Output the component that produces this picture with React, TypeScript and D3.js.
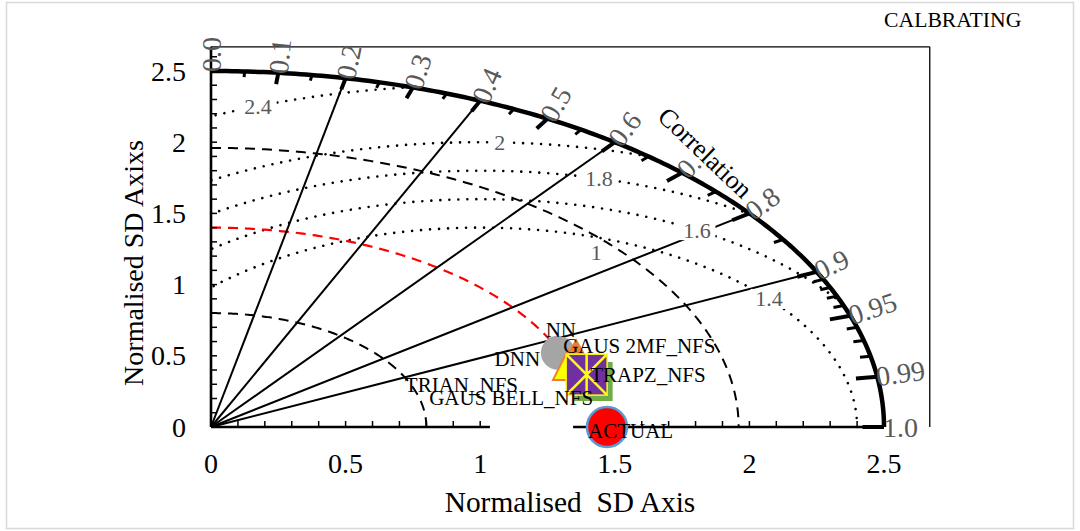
import React from 'react';
import * as d3 from 'd3';

const W = 1080;
const H = 531;

// Standard deviation axis
const sdTickValues = [0, 0.5, 1, 1.5, 2, 2.5];
const sdMax = 2.5;
const plotMax = 2.67;

// Correlation scale along the outer arc
const corrLabelValues = [0, 0.1, 0.2, 0.3, 0.4, 0.5, 0.6, 0.7, 0.8, 0.9, 0.95, 0.99, 1.0];
const corrLabelText = ['0.0', '0.1', '0.2', '0.3', '0.4', '0.5', '0.6', '0.7', '0.8', '0.9', '0.95', '0.99', '1.0'];
const corrLines = [0.2, 0.4, 0.6, 0.8, 0.9];
const corrMajorTicks = [0.1, 0.2, 0.3, 0.4, 0.5, 0.6, 0.7, 0.8, 0.9, 0.95, 0.99, 1.0];
const corrMinorTicks = [0.05, 0.15, 0.25, 0.35, 0.45, 0.55, 0.65, 0.75, 0.85, 0.91, 0.92, 0.93, 0.94, 0.96, 0.97, 0.98];
const corrCaptionAt = 0.69;

// Standard deviation arcs
const sdArcRadii = [0.8, 1.96];
const refSD = 1.4;
const refArcEndCorr = 0.98;

// Centred RMS difference contours
const rmsCentre = 1.0;
const rmsRadii = [1.4, 1.6, 1.8, 2.0, 2.4];
const rmsLabels = ['1.4', '1.6', '1.8', '2', '2.4'];
const rmsLabelX = [2.073, 1.805, 1.441, 1.073, 0.175];
const looseLabel = { text: '1', sd: 1.883, corr: 0.76 };

// Model skill
const models = ['NN', 'DNN', 'TRIAN_NFS', 'TRAPZ_NFS', 'GAUS BELL_NFS', 'GAUS 2MF_NFS', 'ACTUAL'];
const modelSD = [1.39, 1.452, 1.396, 1.455, 1.443, 1.443, 1.471];
const modelCorr = [0.927, 0.934, 0.95, 0.9756, 0.967, 0.967, 1.0];

type MarkerStyle = {
  shape: 'circle' | 'triangle' | 'square' | 'star';
  w: number;
  h?: number;
  fill?: string;
  stroke?: string;
  sw?: number;
  anchor: 'start' | 'middle' | 'end';
  dx: number;
  dy: number;
};

const markerStyles: Record<string, MarkerStyle> = {
  NN: { shape: 'circle', w: 34, fill: '#A5A5A5', anchor: 'middle', dx: 3, dy: -16 },
  DNN: { shape: 'triangle', w: 34, h: 30, fill: '#ED7D31', anchor: 'end', dx: -36, dy: 13 },
  TRIAN_NFS: { shape: 'triangle', w: 30, h: 30, fill: '#FFFF00', stroke: '#ED7D31', sw: 2, anchor: 'end', dx: -50, dy: 27 },
  TRAPZ_NFS: { shape: 'square', w: 39, fill: '#70AD47', anchor: 'start', dx: -3, dy: 0.5 },
  'GAUS BELL_NFS': { shape: 'square', w: 41, fill: '#7030A0', stroke: '#FFFF00', sw: 1.5, anchor: 'end', dx: 6.5, dy: 30.5 },
  'GAUS 2MF_NFS': { shape: 'star', w: 40, stroke: '#FFFF00', sw: 2.5, anchor: 'start', dx: -23.5, dy: -21.5 },
  ACTUAL: { shape: 'circle', w: 40, fill: '#FF0000', stroke: '#5B9BD5', sw: 2.5, anchor: 'start', dx: -19, dy: 11 },
};

const FONT = "'Liberation Serif', 'Times New Roman', serif";
const GREY_TEXT = '#595959';

const x = d3.scaleLinear().domain([0, sdMax]).range([211, 884]);
const y = d3.scaleLinear().domain([0, sdMax]).range([427, 71]);

const polar = (r: number, c: number): [number, number] => {
  const s = Math.sqrt(Math.max(0, 1 - c * c));
  return [x(r * c), y(r * s)];
};

const line = d3.line<[number, number]>().x((d) => d[0]).y((d) => d[1]);

const sdArcPath = (r: number, corrEnd = 1) => {
  const t0 = Math.acos(corrEnd);
  const pts: [number, number][] = d3.range(0, 201).map((i) => {
    const t = Math.PI / 2 - (i / 200) * (Math.PI / 2 - t0);
    return [x(r * Math.cos(t)), y(r * Math.sin(t))];
  });
  return line(pts) as string;
};

const rmsArcPath = (R: number) => {
  const cMin = Math.min(1, (sdMax * sdMax - rmsCentre * rmsCentre - R * R) / (2 * R * rmsCentre));
  const pMin = Math.acos(Math.max(-1, cMin));
  const pMax = Math.acos(Math.max(-1, -rmsCentre / R));
  const pts: [number, number][] = d3.range(0, 301).map((i) => {
    const p = pMin + (i / 300) * (pMax - pMin);
    return [x(rmsCentre + R * Math.cos(p)), y(R * Math.sin(p))];
  });
  return line(pts) as string;
};

function Marker({ cx, cy, st }: { cx: number; cy: number; st: MarkerStyle }) {
  const w = st.w;
  if (st.shape === 'circle') {
    return <circle cx={cx} cy={cy} r={w / 2} fill={st.fill} stroke={st.stroke || 'none'} strokeWidth={st.sw || 0} />;
  }
  if (st.shape === 'square') {
    return (
      <rect x={cx - w / 2} y={cy - w / 2} width={w} height={w} fill={st.fill} stroke={st.stroke || 'none'} strokeWidth={st.sw || 0} />
    );
  }
  if (st.shape === 'triangle') {
    const h = st.h || w;
    const d = `M${cx},${cy - h / 2}L${cx + w / 2},${cy + h / 2}L${cx - w / 2},${cy + h / 2}Z`;
    return <path d={d} fill={st.fill} stroke={st.stroke || 'none'} strokeWidth={st.sw || 0} strokeLinejoin="miter" />;
  }
  const r = w / 2;
  const d = `M${cx - r},${cy - r}L${cx + r},${cy + r}M${cx + r},${cy - r}L${cx - r},${cy + r}M${cx},${cy - r}L${cx},${cy + r}`;
  return <path d={d} stroke={st.stroke} strokeWidth={st.sw} fill="none" />;
}

export default function App() {
  const xAxisSegments: [number, number][] = [
    [0, 1.036],
    [1.345, sdMax],
  ];
  const xMinorTicks = d3.range(1, 25).map((i) => i / 10).filter((v) => xAxisSegments.some(([a, b]) => v >= a && v <= b));
  const yMinorTicks = d3.range(1, 27).map((i) => i / 10);

  const captionSize = 26;
  const captionWidth = 'Correlation'.length * 0.414 * captionSize;

  return (
    <svg width={W} height={H} style={{ position: 'absolute', left: 0, top: 0, background: '#fff' }} fontFamily={FONT}>
      <rect x={6.5} y={2.5} width={1067} height={526} fill="#fff" stroke="#D9D9D9" strokeWidth={1.5} />

      {/* plot area frame */}
      <line x1={x(0)} x2={x(plotMax)} y1={y(plotMax)} y2={y(plotMax)} stroke="#000" strokeWidth={1.3} />
      <line x1={x(plotMax)} x2={x(plotMax)} y1={y(plotMax)} y2={y(0)} stroke="#000" strokeWidth={1.3} />

      {/* centred RMS difference contours */}
      {rmsRadii.map((R) => (
        <path key={`rms${R}`} d={rmsArcPath(R)} fill="none" stroke="#000" strokeWidth={2.6} strokeDasharray="0.01 9" strokeLinecap="round" />
      ))}

      {/* standard deviation arcs */}
      {sdArcRadii.map((r) => (
        <path key={`sd${r}`} d={sdArcPath(r)} fill="none" stroke="#000" strokeWidth={2} strokeDasharray="10 7" />
      ))}
      <path d={sdArcPath(refSD, refArcEndCorr)} fill="none" stroke="#FF0000" strokeWidth={2.2} strokeDasharray="10 7" />

      {/* correlation rays */}
      {corrLines.map((c) => {
        const [px, py] = polar(sdMax, c);
        return <line key={`ray${c}`} x1={x(0)} y1={y(0)} x2={px} y2={py} stroke="#000" strokeWidth={2} />;
      })}

      {/* outer arc with correlation ticks */}
      <path d={sdArcPath(sdMax)} fill="none" stroke="#000" strokeWidth={4.5} />
      {corrMajorTicks.map((c) => {
        const [x1, y1] = polar(sdMax, c);
        const [x2, y2] = polar(sdMax - 0.08, c);
        return <line key={`maj${c}`} x1={x1} y1={y1} x2={x2} y2={y2} stroke="#000" strokeWidth={4} />;
      })}
      {corrMinorTicks.map((c) => {
        const [x1, y1] = polar(sdMax, c);
        const [x2, y2] = polar(sdMax - 0.04, c);
        return <line key={`min${c}`} x1={x1} y1={y1} x2={x2} y2={y2} stroke="#000" strokeWidth={3} />;
      })}

      {/* axes */}
      <line x1={x(0)} x2={x(0)} y1={y(0)} y2={y(plotMax)} stroke="#000" strokeWidth={2.6} />
      {yMinorTicks.map((v) => (
        <line key={`yt${v}`} x1={x(0)} x2={x(0) + 6} y1={y(v)} y2={y(v)} stroke="#000" strokeWidth={1.5} />
      ))}
      {xAxisSegments.map(([a, b]) => (
        <line key={`xs${a}`} x1={x(a)} x2={x(b)} y1={y(0)} y2={y(0)} stroke="#000" strokeWidth={2.6} />
      ))}
      {xMinorTicks.map((v) => (
        <line key={`xt${v}`} x1={x(v)} x2={x(v)} y1={y(0)} y2={y(0) - 6} stroke="#000" strokeWidth={1.5} />
      ))}

      {/* RMS contour labels */}
      {rmsRadii.map((R, i) => {
        const lx = rmsLabelX[i];
        const ly = Math.sqrt(R * R - (lx - rmsCentre) * (lx - rmsCentre));
        const cx = x(lx);
        const cy = y(ly);
        const tw = rmsLabels[i].length * 11 + 4;
        return (
          <g key={`rl${R}`}>
            <rect x={cx - tw / 2} y={cy - 10} width={tw} height={20} fill="#fff" />
            <text x={cx} y={cy} textAnchor="middle" dominantBaseline="central" fontSize={22} fill={GREY_TEXT}>
              {rmsLabels[i]}
            </text>
          </g>
        );
      })}
      {(() => {
        const [cx, cy] = polar(looseLabel.sd, looseLabel.corr);
        return (
          <g>
            <rect x={cx - 7} y={cy - 10} width={14} height={20} fill="#fff" />
            <text x={cx} y={cy} textAnchor="middle" dominantBaseline="central" fontSize={22} fill={GREY_TEXT}>
              {looseLabel.text}
            </text>
          </g>
        );
      })()}

      {/* correlation labels */}
      {corrLabelValues.map((c, i) => {
        const [px, py] = polar(sdMax, c);
        const deg = (Math.acos(c) * 180) / Math.PI;
        return (
          <text
            key={`cl${c}`}
            transform={`translate(${px},${py}) rotate(${-deg})`}
            x={-1}
            textAnchor="start"
            dominantBaseline="central"
            fontSize={28}
            fill={GREY_TEXT}
          >
            {corrLabelText[i]}
          </text>
        );
      })}
      {(() => {
        const [px, py] = polar(2.66, corrCaptionAt);
        const deg = (Math.acos(corrCaptionAt) * 180) / Math.PI;
        return (
          <g transform={`translate(${px},${py}) rotate(${90 - deg})`}>
            <rect x={-captionWidth / 2} y={-9} width={captionWidth} height={18} fill="#fff" />
            <text textAnchor="middle" dominantBaseline="central" fontSize={captionSize} fill="#000">
              Correlation
            </text>
          </g>
        );
      })()}

      {/* model markers */}
      {models.map((m, i) => {
        const [cx, cy] = polar(modelSD[i], modelCorr[i]);
        return <Marker key={`mk${m}`} cx={cx} cy={cy} st={markerStyles[m]} />;
      })}
      {models.map((m, i) => {
        const [cx, cy] = polar(modelSD[i], modelCorr[i]);
        const st = markerStyles[m];
        return (
          <text key={`ml${m}`} x={cx + st.dx} y={cy + st.dy} textAnchor={st.anchor} fontSize={21} fill="#000">
            {m}
          </text>
        );
      })}

      {/* tick labels */}
      {sdTickValues.map((v) => (
        <text key={`yl${v}`} x={186} y={y(v)} textAnchor="end" dominantBaseline="central" fontSize={28} fill="#000">
          {d3.format('~g')(v)}
        </text>
      ))}
      {sdTickValues.map((v) => (
        <text key={`xl${v}`} x={x(v)} y={473} textAnchor="middle" fontSize={28} fill="#000">
          {d3.format('~g')(v)}
        </text>
      ))}

      {/* titles */}
      <text x={570} y={512} textAnchor="middle" fontSize={29.4} fill="#000" style={{ whiteSpace: 'pre' }}>
        {'Normalised  SD Axis'}
      </text>
      <text transform={`translate(143,263) rotate(-90)`} textAnchor="middle" fontSize={28} fill="#000">
        Normalised SD Axixs
      </text>
      <text x={884} y={27} fontSize={21.7} fill="#000">
        CALBRATING
      </text>
    </svg>
  );
}
